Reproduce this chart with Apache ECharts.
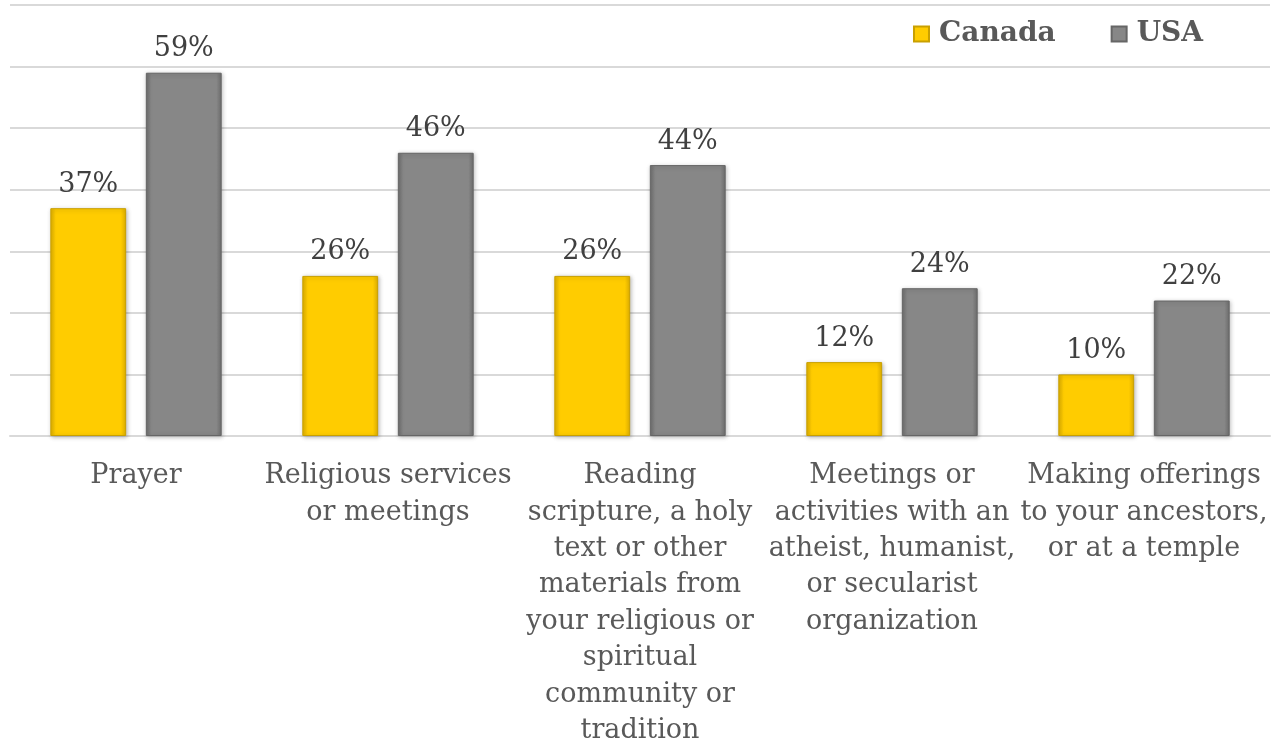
<!DOCTYPE html>
<html>
<head>
<meta charset="utf-8">
<style>
  html, body { margin: 0; padding: 0; background: #ffffff; }
  #chart { width: 1278px; height: 744px; }
</style>
<script src="https://cdn.jsdelivr.net/npm/echarts@6/dist/echarts.min.js"></script>
</head>
<body>
<div id="chart"></div>
<script>
// Religious / spiritual activities, share of respondents
const categories = [
  'Prayer',
  'Religious services\nor meetings',
  'Reading\nscripture, a holy\ntext or other\nmaterials from\nyour religious or\nspiritual\ncommunity or\ntradition',
  'Meetings or\nactivities with an\natheist, humanist,\nor secularist\norganization',
  'Making offerings\nto your ancestors,\nor at a temple'
];
const canada = [37, 26, 26, 12, 10];
const usa = [59, 46, 44, 24, 22];

const FONT = '"DejaVu Serif", serif';

// soft bevel: darker side edges around a flat face
function bevel(edge, base) {
  return {
    type: 'linear', x: 0, y: 0, x2: 1, y2: 0,
    colorStops: [
      { offset: 0, color: edge },
      { offset: 0.07, color: base },
      { offset: 0.93, color: base },
      { offset: 1, color: edge }
    ]
  };
}

const chart = echarts.init(document.getElementById('chart'));
chart.setOption({
  animation: false,
  backgroundColor: '#ffffff',
  legend: {
    top: 15,
    right: 70,
    icon: 'rect',
    itemWidth: 15,
    itemHeight: 15,
    itemGap: 55,
    textStyle: {
      fontFamily: FONT, fontSize: 28, fontWeight: 'bold', color: '#595959',
      padding: [0, 0, 0, 5]
    },
    data: ['Canada', 'USA']
  },
  grid: { left: 10, right: 8, top: 5, bottom: 308, outerBoundsMode: 'none', containLabel: false },
  xAxis: {
    type: 'category',
    data: categories,
    axisLine: { lineStyle: { color: '#d9d9d9', width: 2 } },
    axisTick: { show: false },
    axisLabel: {
      interval: 0,
      margin: 22,
      fontFamily: FONT,
      fontSize: 27,
      lineHeight: 36.4,
      color: '#595959',
      align: 'center'
    }
  },
  yAxis: {
    type: 'value',
    min: 0,
    max: 70,
    interval: 10,
    axisLabel: { show: false },
    axisLine: { show: false },
    axisTick: { show: false },
    splitLine: { lineStyle: { color: '#d9d9d9', width: 2 } }
  },
  series: [
    {
      name: 'Canada',
      type: 'bar',
      data: canada,
      barGap: '26%',
      barCategoryGap: '32%',
      itemStyle: {
        color: bevel('#e0b000', '#ffcc00'),
        borderColor: '#c9a000',
        borderWidth: 1,
        shadowColor: 'rgba(0,0,0,0.25)',
        shadowBlur: 4,
        shadowOffsetX: 1,
        shadowOffsetY: 1
      },
      label: {
        show: true,
        position: 'top',
        distance: 10,
        formatter: '{c}%',
        fontFamily: FONT,
        fontSize: 27,
        color: '#404040'
      }
    },
    {
      name: 'USA',
      type: 'bar',
      data: usa,
      itemStyle: {
        color: bevel('#6e6e6e', '#878787'),
        borderColor: '#666666',
        borderWidth: 1,
        shadowColor: 'rgba(0,0,0,0.25)',
        shadowBlur: 4,
        shadowOffsetX: 1,
        shadowOffsetY: 1
      },
      label: {
        show: true,
        position: 'top',
        distance: 10,
        formatter: '{c}%',
        fontFamily: FONT,
        fontSize: 27,
        color: '#404040'
      }
    }
  ]
});
</script>
</body>
</html>
